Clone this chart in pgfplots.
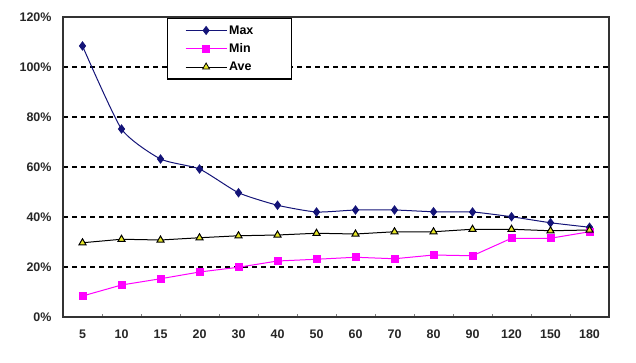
\documentclass[border=0pt]{standalone}
\usepackage{pgfplots}
\pgfplotsset{compat=1.18}
\usepackage{fontspec}
\setmainfont{Liberation Sans}
\definecolor{maxc}{RGB}{20,20,120}
\definecolor{minc}{RGB}{255,0,255}
\definecolor{avefill}{RGB}{230,230,40}
\begin{document}
\begin{tikzpicture}[x=1bp,y=1bp]
\path[use as bounding box] (0,0) rectangle (636,362);
\begin{axis}[
  at={(63bp,45bp)}, anchor=south west,
  scale only axis, width=546bp, height=300bp,
  xmin=-0.5, xmax=13.5, ymin=0, ymax=120,
  xtick={0,...,13},
  xticklabels={5,10,15,20,30,40,50,60,70,80,90,120,150,180},
  major x tick style={draw=none},
  minor xtick={0.5,1.5,...,12.5},
  minor tick length=3bp,
  xtick pos=bottom,
  ytick={0,20,...,120},
  yticklabel={\pgfmathprintnumber{\tick}\%},
  ytick style={draw=none},
  /pgf/number format/assume math mode=true,
  ymajorgrids,
  y grid style={black, line width=1.2bp, dash pattern=on 5bp off 4bp},
  axis line style={black!80, line width=1.3bp},
  every tick label/.append style={font=\fontsize{12.5}{13}\selectfont\bfseries, text=black!85},
  xticklabel style={yshift=-9bp},
  yticklabel style={xshift=-8bp},
  legend style={at={(0.19,0.997)}, anchor=north west, draw=black, line width=1.1bp,
    font=\fontsize{12.5}{13}\selectfont\bfseries, fill=white,
    row sep=4bp, inner xsep=18bp, inner ysep=5bp,
    nodes={text width=42bp, align=left},
    legend image post style={line width=0.8bp}},
  legend cell align=left,
  legend image code/.code={\draw[#1] (0cm,0cm) -- (1.45cm,0cm); \draw[#1] plot coordinates {(0.72cm,0cm)};},
]
\addplot[color=maxc, line width=1bp, smooth, tension=0.35, mark=diamond*, mark size=4bp, mark options={solid, fill=maxc}]
  coordinates {(0,108.4)(1,75.2)(2,63.2)(3,59.2)(4,49.7)(5,44.7)(6,42.0)(7,42.8)(8,42.8)(9,42.1)(10,42.0)(11,40.1)(12,37.7)(13,35.9)};
\addlegendentry{Max}
\addplot[color=minc, line width=1bp, mark=square*, mark size=3.5bp, mark options={solid, fill=minc}]
  coordinates {(0,8.4)(1,12.8)(2,15.3)(3,18.0)(4,19.9)(5,22.4)(6,23.1)(7,23.9)(8,23.3)(9,24.8)(10,24.5)(11,31.5)(12,31.5)(13,34.1)};
\addlegendentry{Min}
\addplot[color=black, line width=1bp, mark=triangle*, mark size=4bp, mark options={solid, fill=avefill, draw=black}]
  coordinates {(0,29.7)(1,31.1)(2,30.8)(3,31.7)(4,32.5)(5,32.8)(6,33.5)(7,33.2)(8,34.1)(9,34.1)(10,35.1)(11,35.1)(12,34.5)(13,34.8)};
\addlegendentry{Ave}
\end{axis}
\end{tikzpicture}
\end{document}
